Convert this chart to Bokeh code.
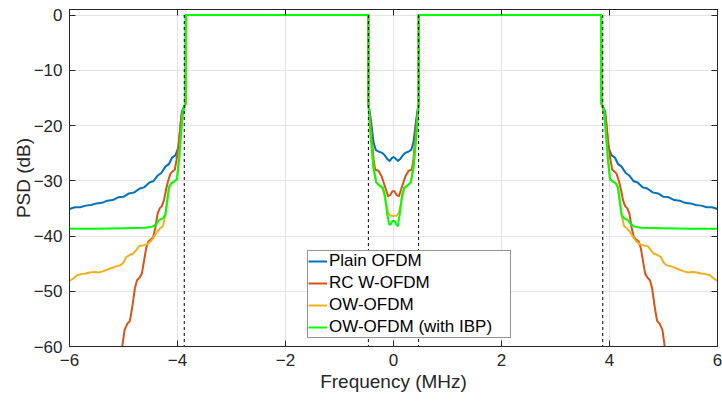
from bokeh.plotting import figure
from bokeh.models import Legend, LegendItem, LinearAxis, FixedTicker, Range1d
from bokeh.embed import file_html
from bokeh.resources import INLINE

# ---------------- data ----------------
freq_ticks = [-6, -4, -2, 0, 2, 4, 6]
psd_ticks = [-60, -50, -40, -30, -20, -10, 0]
band_edges = [-3.875, -0.465, 0.465, 3.875]
edge_top = [0, 0, 0, 0]
edge_bottom = [-60, -60, -60, -60]

plain_freq = [-6.00, -5.90, -5.80, -5.70, -5.60, -5.50, -5.40, -5.30, -5.20, -5.10, -5.00, -4.90, -4.80, -4.70,
              -4.62, -4.52, -4.45, -4.36, -4.30, -4.22, -4.16, -4.10, -4.04, -3.98, -3.92, -3.85, -3.845,
              -0.465, -0.465, -0.42, -0.37, -0.33, -0.28, -0.22, -0.17, -0.12, -0.07, -0.03, 0.00, 0.03, 0.08,
              0.13, 0.18, 0.23, 0.28, 0.33, 0.37, 0.42, 0.465, 0.465,
              3.845, 3.85, 3.92, 3.98, 4.04, 4.10, 4.16, 4.22, 4.30, 4.36, 4.45, 4.52, 4.62, 4.70, 4.80, 4.90,
              5.00, 5.10, 5.20, 5.30, 5.40, 5.50, 5.60, 5.70, 5.80, 5.90, 6.00]
plain_psd = [-35.1, -34.8, -34.8, -34.5, -34.4, -34.1, -34.0, -33.6, -33.5, -33.0, -32.9, -32.3, -32.1, -31.4,
             -31.2, -30.3, -30.1, -29.0, -28.6, -27.4, -27.0, -25.8, -25.4, -23.9, -17.5, -16.0, 0.0,
             0.0, -16.0, -19.0, -23.0, -24.4, -24.7, -24.9, -25.3, -26.0, -26.4, -25.9, -25.7, -25.9, -26.4,
             -26.0, -25.3, -24.9, -24.7, -24.4, -23.0, -19.0, -16.0, 0.0,
             0.0, -16.0, -17.5, -23.9, -25.4, -25.8, -27.0, -27.4, -28.6, -29.0, -30.1, -30.3, -31.2, -31.4,
             -32.1, -32.3, -32.9, -33.0, -33.5, -33.6, -34.0, -34.1, -34.4, -34.5, -34.8, -34.8, -35.1]

rc_freq = [-5.06, -5.03, -4.98, -4.93, -4.88, -4.84, -4.79, -4.75, -4.70, -4.66, -4.62, -4.58, -4.54, -4.49,
           -4.45, -4.41, -4.37, -4.33, -4.29, -4.25, -4.21, -4.17, -4.13, -4.09, -4.05, -4.02, -3.98, -3.93,
           -3.85, -3.845,
           -0.465, -0.465, -0.42, -0.37, -0.34, -0.28, -0.22, -0.16, -0.10, -0.06, -0.02, 0.02, 0.06, 0.10,
           0.16, 0.22, 0.28, 0.34, 0.37, 0.42, 0.465, 0.465,
           3.845, 3.85, 3.93, 3.98, 4.02, 4.05, 4.09, 4.13, 4.17, 4.21, 4.25, 4.29, 4.33, 4.37, 4.41, 4.45,
           4.49, 4.54, 4.58, 4.62, 4.66, 4.70, 4.75, 4.79, 4.84, 4.88, 4.93, 4.98, 5.03, 5.06]
rc_psd = [-63.0, -60.5, -57.0, -55.9, -55.3, -53.0, -49.5, -48.0, -47.5, -46.8, -44.5, -42.2, -41.0, -40.6,
          -40.2, -38.5, -36.0, -35.0, -34.6, -33.5, -31.5, -29.9, -28.7, -28.3, -28.0, -26.3, -23.5, -18.5,
          -16.0, 0.0,
          0.0, -16.0, -20.0, -26.0, -28.0, -28.2, -29.2, -31.0, -32.8, -32.6, -31.9, -31.9, -32.6, -32.8,
          -31.0, -29.2, -28.2, -28.0, -26.0, -20.0, -16.0, 0.0,
          0.0, -16.0, -18.5, -23.5, -26.3, -28.0, -28.3, -28.7, -29.9, -31.5, -33.5, -34.6, -35.0, -36.0,
          -38.5, -40.2, -40.6, -41.0, -42.2, -44.5, -46.8, -47.5, -48.0, -49.5, -53.0, -55.3, -55.9, -57.0,
          -60.5, -63.0]

ow_freq = [-6.00, -5.93, -5.86, -5.78, -5.70, -5.62, -5.54, -5.46, -5.38, -5.30, -5.22, -5.14, -5.06, -5.00,
           -4.95, -4.88, -4.82, -4.76, -4.71, -4.64, -4.56, -4.50, -4.45, -4.39, -4.33, -4.27, -4.23, -4.19,
           -4.15, -4.11, -4.05, -4.01, -3.97, -3.93, -3.90, -3.85, -3.845,
           -0.465, -0.465, -0.43, -0.37, -0.32, -0.26, -0.20, -0.15, -0.10, -0.06, 0.00, 0.06, 0.10, 0.15,
           0.20, 0.26, 0.32, 0.37, 0.43, 0.465, 0.465,
           3.845, 3.85, 3.90, 3.93, 3.97, 4.01, 4.05, 4.11, 4.15, 4.19, 4.23, 4.27, 4.33, 4.39, 4.45, 4.50,
           4.56, 4.64, 4.71, 4.76, 4.82, 4.88, 4.95, 5.00, 5.06, 5.14, 5.22, 5.30, 5.38, 5.46, 5.54, 5.62,
           5.70, 5.78, 5.86, 5.93, 6.00]
ow_psd = [-48.1, -47.7, -47.1, -46.9, -46.8, -46.6, -46.5, -46.6, -46.4, -46.1, -45.8, -45.5, -45.3, -44.8,
          -43.8, -43.4, -43.2, -42.5, -41.8, -41.7, -41.5, -41.0, -40.4, -39.4, -38.7, -38.2, -36.5, -33.8,
          -31.0, -30.4, -30.1, -29.8, -26.0, -21.0, -17.3, -16.0, 0.0,
          0.0, -16.0, -21.0, -27.5, -30.2, -30.8, -31.5, -33.5, -35.8, -36.3, -36.4, -36.3, -35.8, -33.5,
          -31.5, -30.8, -30.2, -27.5, -21.0, -16.0, 0.0,
          0.0, -16.0, -17.3, -21.0, -26.0, -29.8, -30.1, -30.4, -31.0, -33.8, -36.5, -38.2, -38.7, -39.4,
          -40.4, -41.0, -41.5, -41.7, -41.8, -42.5, -43.2, -43.4, -43.8, -44.8, -45.3, -45.5, -45.8, -46.1,
          -46.4, -46.6, -46.5, -46.6, -46.8, -46.9, -47.1, -47.7, -48.1]

ibp_freq = [-6.00, -5.50, -5.00, -4.60, -4.46, -4.39, -4.34, -4.27, -4.22, -4.19, -4.16, -4.12, -4.06, -4.01,
            -3.97, -3.93, -3.90, -3.85, -3.845,
            -0.465, -0.465, -0.43, -0.37, -0.32, -0.27, -0.20, -0.16, -0.12, -0.08, -0.05, -0.02, 0.02, 0.05,
            0.08, 0.12, 0.16, 0.20, 0.27, 0.32, 0.37, 0.43, 0.465, 0.465,
            3.845, 3.85, 3.90, 3.93, 3.97, 4.01, 4.06, 4.12, 4.16, 4.19, 4.22, 4.27, 4.34, 4.39, 4.46, 4.60,
            5.00, 5.50, 6.00]
ibp_psd = [-38.7, -38.7, -38.6, -38.5, -38.3, -37.8, -37.1, -36.8, -36.0, -33.5, -31.2, -30.5, -30.1, -29.7,
           -26.0, -21.0, -17.3, -16.0, 0.0,
           0.0, -16.0, -21.0, -27.8, -30.3, -30.8, -31.2, -32.5, -35.8, -37.9, -37.9, -37.3, -37.3, -37.9,
           -38.2, -35.8, -32.5, -31.2, -30.8, -30.3, -27.8, -21.0, -16.0, 0.0,
           0.0, -16.0, -17.3, -21.0, -26.0, -29.7, -30.1, -30.5, -31.2, -33.5, -36.0, -36.8, -37.1, -37.8,
           -38.3, -38.5, -38.6, -38.7, -38.7]

series_labels = ["Plain OFDM", "RC W-OFDM", "OW-OFDM", "OW-OFDM (with IBP)"]
series_colors = ["#0072BD", "#D95319", "#EDB120", "#00FF00"]

# ---------------- figure ----------------
FONT = "Liberation Sans"
INK = "#262626"

p = figure(width=722, height=401, output_backend="svg", toolbar_location=None,
           x_range=Range1d(-6, 6), y_range=Range1d(-60, 1),
           min_border_left=69, min_border_right=5, min_border_top=9, min_border_bottom=55,
           x_axis_label="Frequency (MHz)", y_axis_label="PSD (dB)")
p.background_fill_color = "white"
p.border_fill_color = "white"
p.outline_line_color = INK
p.outline_line_width = 1

p.xaxis.ticker = FixedTicker(ticks=freq_ticks)
p.yaxis.ticker = FixedTicker(ticks=psd_ticks)
p.xgrid.ticker = FixedTicker(ticks=freq_ticks)
p.ygrid.ticker = FixedTicker(ticks=psd_ticks)
for g in (p.xgrid[0], p.ygrid[0]):
    g.grid_line_color = "#e3e3e3"
    g.grid_line_width = 1

for ax in (p.xaxis[0], p.yaxis[0]):
    ax.major_tick_in = 6
    ax.major_tick_out = 0
    ax.minor_tick_line_color = None
    ax.axis_line_color = INK
    ax.major_tick_line_color = INK
    ax.major_label_text_font = FONT
    ax.major_label_text_font_size = "17px"
    ax.major_label_text_color = INK
    ax.axis_label_text_font = FONT
    ax.axis_label_text_font_size = "19px"
    ax.axis_label_text_font_style = "normal"
    ax.axis_label_text_color = INK
p.xaxis.major_label_standoff = 7
p.yaxis.major_label_standoff = 7
p.xaxis.axis_label_standoff = 2
p.yaxis.axis_label_standoff = -3

# mirrored tick marks on the top and right edges (box on), no labels drawn
top_axis = LinearAxis(ticker=FixedTicker(ticks=freq_ticks), major_tick_in=6, major_tick_out=0,
                      minor_tick_line_color=None, major_label_text_font_size="1px",
                      major_label_text_color=None, major_label_standoff=0,
                      axis_line_color=INK, major_tick_line_color=INK)
right_axis = LinearAxis(ticker=FixedTicker(ticks=psd_ticks), major_tick_in=6, major_tick_out=0,
                        minor_tick_line_color=None, major_label_text_font_size="1px",
                        major_label_text_color=None, major_label_standoff=0,
                        axis_line_color=INK, major_tick_line_color=INK)
p.add_layout(top_axis, "above")
p.add_layout(right_axis, "right")

renderers = []
for fx, fy, col in ((plain_freq, plain_psd, series_colors[0]),
                    (rc_freq, rc_psd, series_colors[1]),
                    (ow_freq, ow_psd, series_colors[2]),
                    (ibp_freq, ibp_psd, series_colors[3])):
    r = p.line(fx, fy, line_color=col, line_width=2, line_join="round")
    renderers.append(r)

p.segment(x0=band_edges, y0=edge_top, x1=band_edges, y1=edge_bottom,
          line_color="black", line_width=1, line_dash="3 3")

legend = Legend(items=[LegendItem(label=lab, renderers=[r]) for lab, r in zip(series_labels, renderers)],
                location=(238, 8), orientation="vertical",
                label_text_font=FONT, label_text_font_size="17px", label_text_color="black",
                border_line_color=INK, border_line_width=1,
                background_fill_color="white", background_fill_alpha=1.0,
                padding=0, spacing=2, margin=0, glyph_width=19, glyph_height=20,
                label_height=20, label_standoff=2, label_width=181)
p.add_layout(legend)

open("out.html", "w").write(file_html(p, INLINE))
